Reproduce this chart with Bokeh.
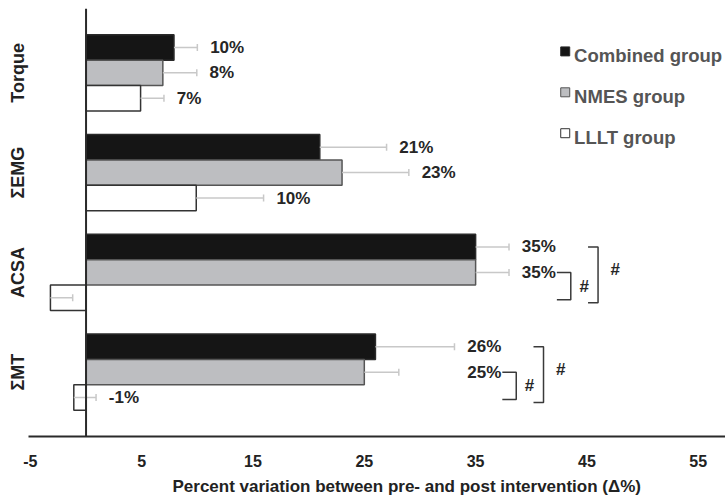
from bokeh.plotting import figure
from bokeh.models import Range1d, FixedTicker, Span, Title
from bokeh.core.properties import value
from bokeh.embed import file_html
from bokeh.resources import INLINE

# ---- data ----
categories = ["Torque", "ΣEMG", "ACSA", "ΣMT"]
combined = [7.9, 21.0, 35.0, 26.0]
nmes = [6.9, 23.0, 35.0, 25.0]
lllt = [4.9, 9.9, -3.2, -1.1]
combined_err = [2.1, 6.0, 3.0, 7.1]
nmes_err = [3.05, 6.0, 3.0, 3.1]
lllt_err = [2.1, 6.05, 2.0, 2.0]
combined_lbl = ["10%", "21%", "35%", "26%"]
nmes_lbl = ["8%", "23%", "35%", "25%"]
lllt_lbl = ["7%", "10%", "", "-1%"]
bracket_groups = ["ACSA", "ΣMT"]
legend_names = ["Combined group", "NMES group", "LLLT group"]
x_ticks = [-5, 5, 15, 25, 35, 45, 55]
x_tick_labels = ["-5", "5", "15", "25", "35", "45", "55"]
x_title = "Percent variation between pre- and post intervention (Δ%)"

FONT = "Liberation Sans"
fills = ["#151515", "#bdbec1", "#ffffff"]
outlines = ["#2a2a2a", "#555555", "#333333"]

n = len(categories)
centers = [n - 1 - i for i in range(n)]  # Torque on top
bh = 0.255
offsets = [bh, 0.0, -bh]
Y0, Y1 = -0.645, 3.645

p = figure(width=725, height=500, output_backend="svg", toolbar_location=None,
           x_range=Range1d(-5.17, 57.45), y_range=Range1d(Y0, Y1),
           min_border_left=28, min_border_right=0, min_border_top=8, min_border_bottom=63)
p.outline_line_color = None
p.xgrid.visible = False
p.ygrid.visible = False
p.background_fill_color = "white"

series = [(combined, combined_err, combined_lbl), (nmes, nmes_err, nmes_lbl), (lllt, lllt_err, lllt_lbl)]
ys_all = []
for k, (vals, errs, lbls) in enumerate(series):
    ys = [c + offsets[k] for c in centers]
    ys_all.append(ys)
    p.hbar(y=ys, left=0, right=vals, height=bh, fill_color=fills[k],
           line_color=outlines[k], line_width=1.5)

# error bars (plus direction)
cap = 0.035
for k, (vals, errs, lbls) in enumerate(series):
    ys = ys_all[k]
    ends = [v + e for v, e in zip(vals, errs)]
    p.segment(x0=vals, y0=ys, x1=ends, y1=ys, line_color="#c8c8c8", line_width=1.5)
    p.segment(x0=ends, y0=[y - cap for y in ys], x1=ends, y1=[y + cap for y in ys],
              line_color="#c8c8c8", line_width=1.5)

# value labels
lab_x = [[], [], []]
for i, cat in enumerate(categories):
    ends = [series[k][0][i] + series[k][1][i] for k in range(3)]
    for k in range(3):
        lab_x[k].append(ends[k] + 1.15)
    if cat in bracket_groups:
        m = max(ends[0], ends[1]) + 1.15
        lab_x[0][i] = m
        lab_x[1][i] = m
for k in range(3):
    p.text(x=lab_x[k], y=ys_all[k], text=series[k][2], text_font=value(FONT),
           text_font_style="bold", text_font_size="17px", text_color="#262626",
           text_baseline="middle", text_align="left")

# significance brackets
bxs, bys, hx, hy = [], [], [], []
for i, cat in enumerate(categories):
    if cat not in bracket_groups:
        continue
    lx = lab_x[0][i]
    yc, yn, yl = ys_all[0][i], ys_all[1][i], ys_all[2][i]
    xi = lx + 4.4
    ti = 1.25
    top_i, bot_i = yn, yl - 0.02
    bxs.append([xi - ti, xi, xi, xi - ti]); bys.append([top_i, top_i, bot_i, bot_i])
    hx.append(xi + 1.2); hy.append((top_i + bot_i) / 2)
    xo = lx + 6.85
    to = 0.9
    top_o, bot_o = yc + 0.0, yl - 0.05
    bxs.append([xo - to, xo, xo, xo - to]); bys.append([top_o, top_o, bot_o, bot_o])
    hx.append(xo + 1.55); hy.append((top_o + bot_o) / 2 + 0.05)
p.multi_line(xs=bxs, ys=bys, line_color="#3a3a3a", line_width=1.5)
p.text(x=hx, y=hy, text=["#"] * len(hx), text_font=value(FONT), text_font_style="bold",
       text_font_size="17px", text_color="#262626", text_baseline="middle", text_align="center")

# zero line
p.add_layout(Span(location=0, dimension="height", line_color="#2a2a2a", line_width=2))

# legend (custom)
lg_sq_x = 43.05
lg_tx = 43.85
lg_y0 = 3.215
lg_dy = 0.41
sq_y = [lg_y0 - j * lg_dy for j in range(3)]
p.scatter(x=[lg_sq_x] * 3, y=sq_y, marker="square", size=9, fill_color=fills,
          line_color=outlines, line_width=1)
p.text(x=[lg_tx] * 3, y=[y - 0.045 for y in sq_y], text=legend_names, text_font=value(FONT),
       text_font_style="bold", text_font_size="18.5px", text_color="#555555",
       text_baseline="middle", text_align="left")

# axes
xa = p.xaxis[0]
xa.ticker = FixedTicker(ticks=x_ticks)
xa.major_label_overrides = dict(zip(x_ticks, x_tick_labels))
xa.axis_line_color = "#2a2a2a"
xa.axis_line_width = 2
xa.major_tick_line_color = None
xa.minor_tick_line_color = None
xa.major_tick_out = 0
xa.major_tick_in = 0
xa.major_label_standoff = 18
xa.major_label_text_font = FONT
xa.major_label_text_font_style = "bold"
xa.major_label_text_font_size = "16px"
xa.major_label_text_color = "#222222"

# x-axis title (placed off-centre as in the reference)
p.add_layout(Title(text=x_title, align="left", offset=144, standoff=10,
                   text_font=FONT, text_font_style="bold", text_font_size="17px",
                   text_color="#222222"), "below")

ya = p.yaxis[0]
ya.ticker = FixedTicker(ticks=centers)
ya.major_label_overrides = {c: categories[i] for i, c in enumerate(centers)}
ya.major_label_orientation = "vertical"
ya.axis_line_color = None
ya.major_tick_line_color = None
ya.minor_tick_line_color = None
ya.major_tick_out = 0
ya.major_tick_in = 0
ya.major_label_standoff = 0
ya.major_label_text_font = FONT
ya.major_label_text_font_style = "bold"
ya.major_label_text_font_size = "18px"
ya.major_label_text_color = "#222222"

open("out.html", "w").write(file_html(p, INLINE))
